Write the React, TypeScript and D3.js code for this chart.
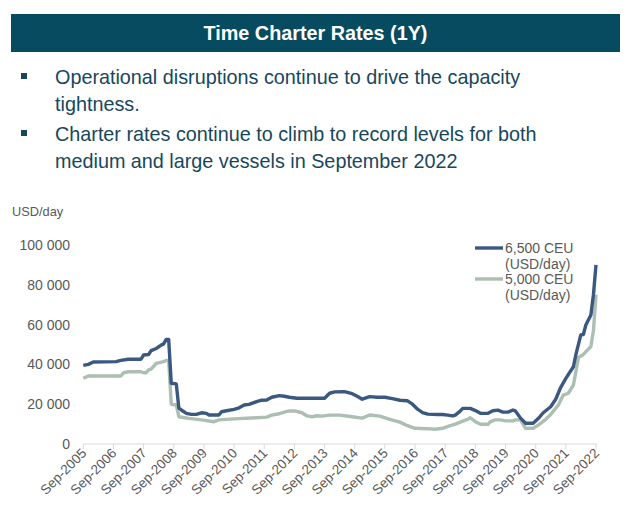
import React from "react";
import * as d3 from "d3";

const dates6500 = ["2005-09","2005-11","2006-01","2006-10","2006-12","2007-03","2007-08","2007-09","2007-11","2007-12","2008-02","2008-04","2008-05","2008-06","2008-07","2008-08","2008-10","2008-11","2008-12","2009-02","2009-04","2009-06","2009-08","2009-10","2009-11","2010-03","2010-04","2010-06","2010-09","2010-11","2011-01","2011-03","2011-06","2011-08","2011-10","2011-12","2012-03","2012-05","2012-07","2012-10","2013-04","2013-09","2013-11","2014-01","2014-05","2014-08","2014-10","2014-12","2015-03","2015-06","2015-09","2015-12","2016-03","2016-06","2016-08","2016-10","2016-12","2017-02","2017-06","2017-08","2017-10","2017-12","2018-01","2018-03","2018-04","2018-07","2018-09","2018-11","2019-02","2019-04","2019-06","2019-08","2019-10","2019-12","2020-01","2020-03","2020-05","2020-08","2020-10","2020-12","2021-03","2021-05","2021-07","2021-09","2021-12","2022-01","2022-03","2022-04","2022-05","2022-07","2022-08","2022-09"];
const values6500 = [39500,40000,41200,41400,42000,42600,42600,44700,45000,46900,48000,49700,50300,52600,52600,30500,30200,18000,17100,15400,14900,14900,15700,15400,14600,14600,16200,16700,17400,18200,19600,19900,21300,22000,22100,23500,24300,24000,23500,23000,23000,23000,25500,26200,26300,25300,24000,22500,23800,23500,23500,22800,22000,21700,20000,17500,15800,15000,14800,14800,14500,14100,14500,16500,17900,17900,16800,15400,15400,16700,17000,16000,16000,17100,16500,13000,10400,10400,12800,15700,18700,22500,28500,33000,38800,45000,54800,55000,59800,64800,75000,90000];

const dates5000 = ["2005-09","2005-11","2006-12","2007-01","2007-03","2007-08","2007-09","2007-10","2007-11","2007-12","2008-02","2008-05","2008-06","2008-07","2008-08","2008-10","2008-11","2009-03","2009-08","2010-01","2010-03","2010-09","2011-06","2011-10","2011-12","2012-03","2012-05","2012-07","2012-09","2012-12","2013-02","2013-04","2013-06","2013-08","2013-11","2014-03","2014-08","2014-12","2015-03","2015-07","2015-11","2016-03","2016-06","2016-09","2017-02","2017-05","2017-08","2017-11","2018-01","2018-04","2018-06","2018-07","2018-09","2018-11","2019-02","2019-03","2019-05","2019-07","2019-09","2019-12","2020-01","2020-03","2020-05","2020-08","2020-10","2021-01","2021-03","2021-06","2021-08","2021-10","2021-12","2022-02","2022-04","2022-07","2022-08","2022-09"];
const values5000 = [33000,34200,34200,35800,36300,36300,35800,35800,37200,37600,40500,41400,42000,42000,20000,19600,13700,12900,12100,11200,12100,12600,13200,13500,14500,15200,16000,16600,16600,15700,14100,13700,14200,14000,14500,14500,13700,13000,14600,14000,12400,11000,9200,7900,7700,7400,7900,9200,10000,11500,12400,13200,11200,9900,9900,11200,12100,12100,11600,11600,12100,12100,7900,7900,9500,12400,14800,19500,24600,25500,29600,43500,45000,49000,57000,75000];

const yTicks = [0, 20000, 40000, 60000, 80000, 100000];
const xTickYears = [2005,2006,2007,2008,2009,2010,2011,2012,2013,2014,2015,2016,2017,2018,2019,2020,2021,2022];
const seriesNames = ["6,500 CEU", "5,000 CEU"];
const unitLabel = "(USD/day)";
const titleText = "Time Charter Rates (1Y)";
const bullets = [
  ["Operational disruptions continue to drive the capacity", "tightness."],
  ["Charter rates continue to climb to record levels for both", "medium and large vessels in September 2022"],
];

const parse = d3.timeParse("%Y-%m");
const fmt = (v: number) => d3.format(",")(v).replace(/,/g, " ");

export default function App() {
  const W = 640, H = 525;
  const x = d3.scaleTime().domain([parse("2005-09")!, parse("2022-09")!]).range([83.3, 596]);
  const y = d3.scaleLinear().domain([0, 100000]).range([444, 245]);
  const line = d3.line<[Date, number]>().x(d => x(d[0])).y(d => y(d[1])).curve(d3.curveLinear);
  const s1 = dates6500.map((d, i) => [parse(d)!, values6500[i]] as [Date, number]);
  const s2 = dates5000.map((d, i) => [parse(d)!, values5000[i]] as [Date, number]);
  const blue = "#3a5880";
  const grey = "#abbfb3";
  const textCol = "#595959";
  const navy = "#17475c";
  const font = "'Liberation Sans', Arial, sans-serif";
  return (
    <svg width={W} height={H} style={{ position: "absolute", left: 0, top: 0, background: "#fff" }} fontFamily={font}>
      <rect x={11} y={14} width={609} height={38} fill="#074b61" />
      <text x={315.5} y={40} textAnchor="middle" fill="#fff" fontWeight="bold" fontSize={19.8}>{titleText}</text>
      {bullets.map((b, i) => (
        <g key={i}>
          <rect x={21} y={73 + i * 57} width={6} height={6} fill={navy} />
          {b.map((t, j) => (
            <text key={j} x={55} y={84 + i * 57 + j * 26.5} fontSize={19.8} fill={navy}>{t}</text>
          ))}
        </g>
      ))}
      <text x={12} y={216} fontSize={12.8} fill={textCol}>USD/day</text>
      {yTicks.map(v => (
        <text key={v} x={70} y={y(v) + 5} textAnchor="end" fontSize={14} fill={textCol}>{fmt(v)}</text>
      ))}
      <line x1={x(parse("2005-09")!)} x2={x(parse("2022-09")!) + 1} y1={444} y2={444} stroke="#d9d9d9" strokeWidth={1} />
      {xTickYears.map(yr => {
        const xx = x(parse(`${yr}-09`)!);
        return (
          <g key={yr}>
            <line x1={xx} x2={xx} y1={444} y2={449} stroke="#d9d9d9" strokeWidth={1} />
            <text transform={`translate(${xx + 4},${454}) rotate(-45)`} textAnchor="end" fontSize={13.5} fill={textCol}>{`Sep-${yr}`}</text>
          </g>
        );
      })}
      <path d={line(s2)!} fill="none" stroke={grey} strokeWidth={3.4} strokeLinejoin="round" />
      <path d={line(s1)!} fill="none" stroke={blue} strokeWidth={3.4} strokeLinejoin="round" />
      <line x1={475} x2={503} y1={248} y2={248} stroke={blue} strokeWidth={3.4} />
      <text x={505} y={253} fontSize={14} fill={textCol}>{seriesNames[0]}</text>
      <text x={505} y={269} fontSize={14} fill={textCol}>{unitLabel}</text>
      <line x1={475} x2={503} y1={279} y2={279} stroke={grey} strokeWidth={3.4} />
      <text x={505} y={284} fontSize={14} fill={textCol}>{seriesNames[1]}</text>
      <text x={505} y={300} fontSize={14} fill={textCol}>{unitLabel}</text>
    </svg>
  );
}
